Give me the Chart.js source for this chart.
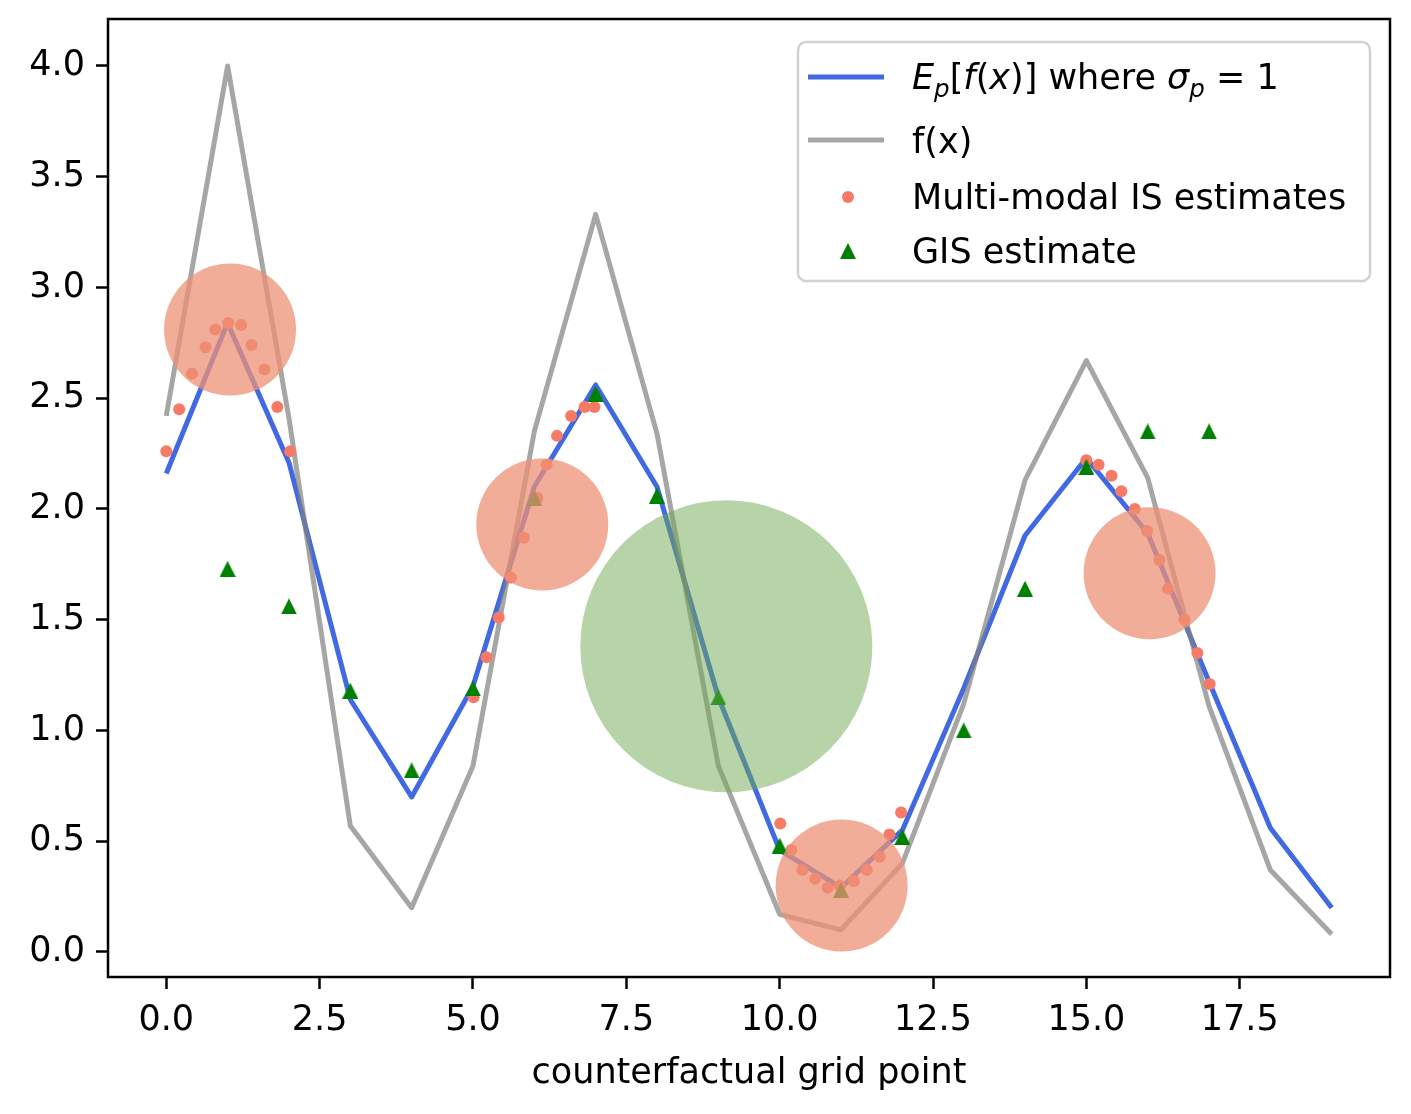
<!DOCTYPE html>
<html lang="en">
<head>
  <meta charset="UTF-8">
  <title>Counterfactual grid estimates</title>
  <script src="https://cdn.jsdelivr.net/npm/chart.js"></script>
  <style>
    body { margin: 0; background: #fff; }
    canvas { display: block; }
  </style>
</head>
<body>
  <canvas id="chart" width="1411" height="1114"></canvas>

  <script>
    // values
    const gridX = [0, 1, 2, 3, 4, 5, 6, 7, 8, 9, 10, 11, 12, 13, 14, 15, 16, 17, 18, 19];
    const expectedY = [2.16, 2.84, 2.21, 1.14, 0.70, 1.20, 2.10, 2.56, 2.10, 1.15,
                       0.46, 0.29, 0.55, 1.19, 1.88, 2.23, 1.89, 1.22, 0.56, 0.20];
    const fY = [2.42, 4.00, 2.41, 0.57, 0.20, 0.84, 2.35, 3.33, 2.34, 0.84,
                0.17, 0.10, 0.40, 1.12, 2.13, 2.67, 2.14, 1.11, 0.37, 0.08];

    const isX = [0.00, 0.21, 0.42, 0.64, 0.80, 1.01, 1.22, 1.39, 1.60, 1.81, 2.02,
                 5.01, 5.22, 5.42, 5.62, 5.83, 6.05, 6.20, 6.37, 6.60, 6.82, 6.98,
                 10.01, 10.19, 10.37, 10.58, 10.78, 10.98, 11.21, 11.42, 11.63, 11.79, 11.98,
                 15.00, 15.20, 15.41, 15.57, 15.79, 15.99, 16.19, 16.33, 16.60, 16.81, 17.01];
    const isY = [2.26, 2.45, 2.61, 2.73, 2.81, 2.84, 2.83, 2.74, 2.63, 2.46, 2.26,
                 1.15, 1.33, 1.51, 1.69, 1.87, 2.05, 2.20, 2.33, 2.42, 2.46, 2.46,
                 0.58, 0.46, 0.37, 0.33, 0.29, 0.30, 0.32, 0.37, 0.43, 0.53, 0.63,
                 2.22, 2.20, 2.15, 2.08, 2.00, 1.90, 1.77, 1.64, 1.50, 1.35, 1.21];

    const gisX = [1, 2, 3, 4, 5, 6, 7, 8, 9, 10, 11, 12, 13, 14, 15, 16, 17];
    const gisY = [1.73, 1.56, 1.18, 0.82, 1.19, 2.05, 2.52, 2.06, 1.15,
                  0.48, 0.28, 0.52, 1.00, 1.64, 2.19, 2.35, 2.35];

    const modeX = [1.04, 6.13, 11.01, 16.03];
    const modeY = [2.81, 1.93, 0.30, 1.71];
    const gisModeX = [9.13];
    const gisModeY = [1.38];

    const xTicks = [0, 2.5, 5, 7.5, 10, 12.5, 15, 17.5];
    const yTicks = [0, 0.5, 1, 1.5, 2, 2.5, 3, 3.5, 4];

    const FONT = 'DejaVu Sans';
    const BLUE = 'royalblue';
    const GREY = 'rgba(128,128,128,0.7)';
    const DOT = 'rgb(246,122,102)';
    const TRI = 'green';

    const pts = (xs, ys) => xs.map((x, i) => ({ x: x, y: ys[i] }));

    // matplotlib '^' marker: as wide as it is tall
    function triangleMarker(size, color) {
      const c = document.createElement('canvas');
      c.width = size; c.height = size;
      const g = c.getContext('2d');
      g.fillStyle = color;
      g.beginPath();
      g.moveTo(size / 2, 0); g.lineTo(0, size); g.lineTo(size, size);
      g.closePath(); g.fill();
      return c;
    }
    const triImg = triangleMarker(16, TRI);

    // full box round the axes, like matplotlib spines
    const framePlugin = {
      id: 'frame',
      afterDatasetsDraw(chart) {
        const { ctx, chartArea: a } = chart;
        ctx.save();
        ctx.strokeStyle = '#000';
        ctx.lineWidth = 2.5;
        ctx.strokeRect(a.left, a.top, a.right - a.left, a.bottom - a.top);
        ctx.restore();
      }
    };

    function drawMath(ctx, x, y, segs, size) {
      for (const [t, style] of segs) {
        const it = style.includes('i');
        const sub = style.includes('s');
        const fs = sub ? size * 0.7 : size;
        ctx.font = (it ? 'italic ' : '') + fs + 'px "' + FONT + '"';
        ctx.fillText(t, x, sub ? y + size * 0.22 : y);
        x += ctx.measureText(t).width;
      }
    }

    const legendPlugin = {
      id: 'mplLegend',
      afterDraw(chart) {
        const { ctx, chartArea: a } = chart;
        const w = 572, h = 239;
        const bx = a.right - 20 - w, by = a.top + 23;
        ctx.save();
        ctx.beginPath();
        ctx.roundRect(bx, by, w, h, 8);
        ctx.fillStyle = 'rgba(255,255,255,0.8)';
        ctx.fill();
        ctx.lineWidth = 2.5;
        ctx.strokeStyle = 'rgba(204,204,204,0.9)';
        ctx.stroke();

        const lx0 = bx + 10, lx1 = bx + 86, mx = bx + 50, tx = bx + 114;
        ctx.lineWidth = 5;
        ctx.lineCap = 'butt';
        ctx.strokeStyle = BLUE;
        ctx.beginPath(); ctx.moveTo(lx0, by + 35); ctx.lineTo(lx1, by + 35); ctx.stroke();
        ctx.strokeStyle = GREY;
        ctx.beginPath(); ctx.moveTo(lx0, by + 98); ctx.lineTo(lx1, by + 98); ctx.stroke();
        ctx.fillStyle = DOT;
        ctx.beginPath(); ctx.arc(mx, by + 155, 6, 0, Math.PI * 2); ctx.fill();
        ctx.drawImage(triImg, mx - 8, by + 201);

        ctx.fillStyle = '#000';
        ctx.textBaseline = 'alphabetic';
        drawMath(ctx, tx, by + 47, [
          ['E', 'i'], ['p', 'is'], ['[', ''], ['f', 'i'], ['(', ''], ['x', 'i'], [')]', ''],
          [' where ', ''], ['σ', 'i'], ['p', 'is'], [' = 1', '']
        ], 35);
        ctx.font = '35px "' + FONT + '"';
        ctx.fillText('f(x)', tx, by + 111);
        ctx.fillText('Multi-modal IS estimates', tx, by + 167);
        ctx.fillText('GIS estimate', tx, by + 221);
        ctx.restore();
      }
    };

    const tickFont = { family: FONT, size: 35 };

    new Chart(document.getElementById('chart').getContext('2d'), {
      type: 'scatter',
      data: {
        datasets: [
          {
            label: 'modes',
            data: pts(modeX, modeY),
            backgroundColor: 'rgba(238,145,118,0.75)',
            borderWidth: 0,
            pointRadius: 66,
            order: 0
          },
          {
            label: 'GIS mode',
            data: pts(gisModeX, gisModeY),
            backgroundColor: 'rgba(110,170,80,0.5)',
            borderWidth: 0,
            pointRadius: 146,
            order: 0
          },
          {
            label: 'GIS estimate',
            data: pts(gisX, gisY),
            pointStyle: triImg,
            pointRadius: 8,
            backgroundColor: TRI,
            borderWidth: 0,
            order: 1
          },
          {
            label: 'Multi-modal IS estimates',
            data: pts(isX, isY),
            pointRadius: 6,
            backgroundColor: DOT,
            borderWidth: 0,
            order: 2
          },
          {
            type: 'line',
            label: 'f(x)',
            data: pts(gridX, fY),
            borderColor: GREY,
            borderWidth: 5,
            borderJoinStyle: 'round',
            pointRadius: 0,
            tension: 0,
            order: 3
          },
          {
            type: 'line',
            label: 'E_p[f(x)]',
            data: pts(gridX, expectedY),
            borderColor: BLUE,
            borderWidth: 5,
            borderJoinStyle: 'round',
            pointRadius: 0,
            tension: 0,
            order: 4
          }
        ]
      },
      options: {
        responsive: false,
        devicePixelRatio: 1,
        animation: false,
        events: [],
        layout: { autoPadding: false, padding: { top: 19, right: 21, left: 0, bottom: 0 } },
        plugins: { legend: { display: false }, tooltip: { enabled: false } },
        scales: {
          x: {
            type: 'linear',
            min: -0.95,
            max: 19.95,
            afterBuildTicks: s => { s.ticks = xTicks.map(v => ({ value: v })); },
            afterFit: s => { s.height = 137; s.paddingLeft = 0; s.paddingRight = 0; },
            ticks: { callback: v => v.toFixed(1), font: tickFont, color: '#000', padding: 11, maxRotation: 0, autoSkip: false },
            grid: { drawOnChartArea: false, drawTicks: true, tickLength: 12, tickWidth: 2.5, tickColor: '#000' },
            border: { display: false },
            title: {
              display: true,
              text: 'counterfactual grid point',
              font: tickFont,
              color: '#000',
              padding: { top: 0, bottom: 19 }
            }
          },
          y: {
            type: 'linear',
            min: -0.113,
            max: 4.212,
            afterBuildTicks: s => { s.ticks = yTicks.map(v => ({ value: v })); },
            afterFit: s => { s.width = 108; s.paddingTop = 0; s.paddingBottom = 0; },
            ticks: { callback: v => v.toFixed(1), font: tickFont, color: '#000', padding: 11, autoSkip: false },
            grid: { drawOnChartArea: false, drawTicks: true, tickLength: 12, tickWidth: 2.5, tickColor: '#000' },
            border: { display: false }
          }
        }
      },
      plugins: [framePlugin, legendPlugin]
    });
  </script>
</body>
</html>
